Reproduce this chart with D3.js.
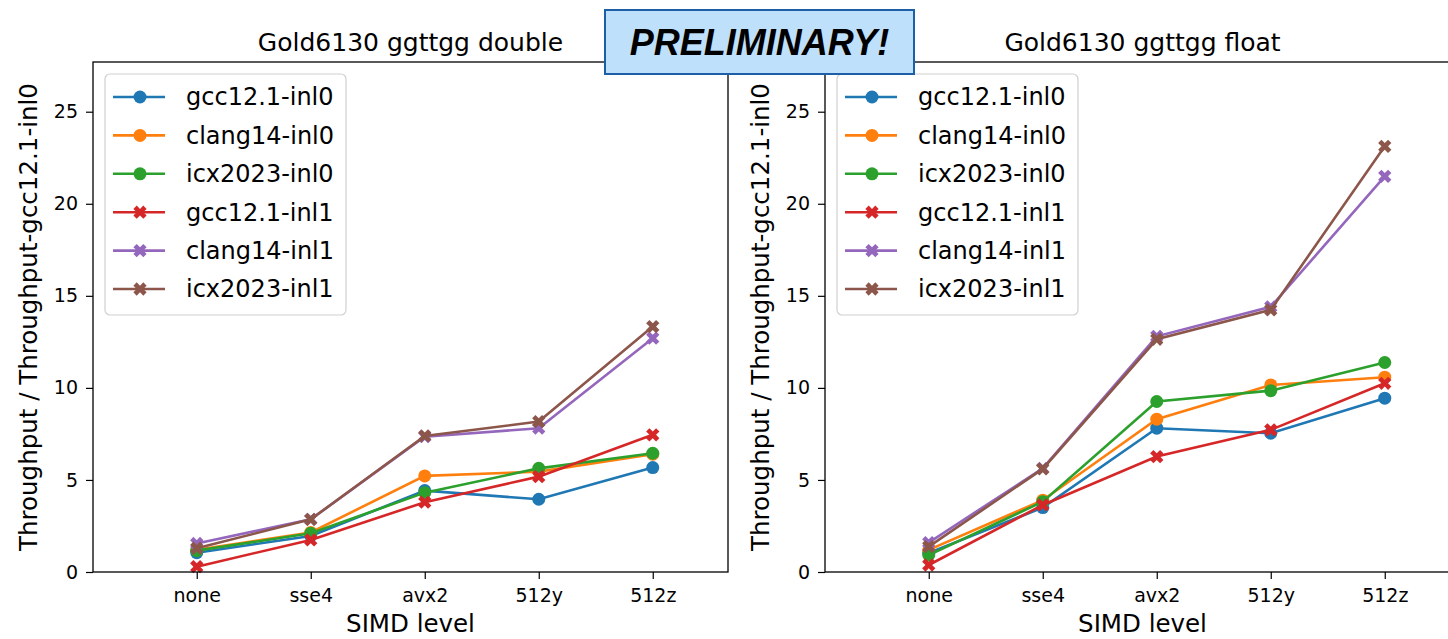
<!DOCTYPE html>
<html>
<head>
<meta charset="utf-8">
<script src="https://cdn.jsdelivr.net/npm/d3@7"></script>
<style>
  body { margin: 0; background: #fff; }
  svg text { font-family: "DejaVu Sans", sans-serif; fill: #000; }
</style>
</head>
<body>
<svg id="chart"></svg>
<script>
// categories on the x axis
var simdLevels = ["none", "sse4", "avx2", "512y", "512z"];
// series, in legend order
var seriesNames = ["gcc12.1-inl0", "clang14-inl0", "icx2023-inl0",
                   "gcc12.1-inl1", "clang14-inl1", "icx2023-inl1"];
var seriesColors = ["#1f77b4", "#ff7f0e", "#2ca02c", "#d62728", "#9467bd", "#8c564b"];
var seriesMarkers = ["o", "o", "o", "X", "X", "X"];
var yTicks = [0, 5, 10, 15, 20, 25];

// relative throughput, one row per series (same order as seriesNames)
var doubleThroughput = [
    [1.05, 1.96, 4.42, 3.95, 5.67],
    [1.20, 2.15, 5.22, 5.45, 6.40],
    [1.16, 2.10, 4.31, 5.63, 6.45],
    [0.29, 1.74, 3.79, 5.18, 7.45],
    [1.55, 2.86, 7.35, 7.81, 12.70],
    [1.29, 2.86, 7.39, 8.17, 13.33]
];
var floatThroughput = [
    [1.03, 3.50, 7.81, 7.54, 9.44],
    [1.20, 3.90, 8.30, 10.16, 10.58],
    [0.92, 3.82, 9.26, 9.85, 11.38],
    [0.38, 3.64, 6.27, 7.72, 10.25],
    [1.60, 5.63, 12.80, 14.40, 21.49],
    [1.38, 5.60, 12.64, 14.24, 23.12]
];

var panels = [
    {title: "Gold6130 ggttgg double", data: doubleThroughput, left: 93},
    {title: "Gold6130 ggttgg float", data: floatThroughput, left: 825}
];

var W = 1448, H = 639;
var plotTop = 62, plotW = 635, plotH = 510;

var svg = d3.select("#chart")
            .attr("width", W)
            .attr("height", H);

//shared scales (both panels use the same limits)
var xScale = d3.scaleLinear()
               .domain([-0.91, 4.66])
               .range([0, plotW]);
var yScale = d3.scaleLinear()
               .domain([0, 27.7])
               .range([plotH, 0]);

var line = d3.line()
             .x(function(d, i) { return xScale(i); })
             .y(function(d) { return yScale(d); });

function drawMarker(sel, type, color) {
    if (type === "o") {
        sel.append("circle")
           .attr("r", 6.5)
           .attr("fill", color);
    } else {
        sel.append("path")
           .attr("d", d3.symbol(d3.symbolCross, 110)())
           .attr("transform", "rotate(45)")
           .attr("fill", color);
    }
}

panels.forEach(function(p) {
    var g = svg.append("g")
               .attr("transform", "translate(" + p.left + "," + plotTop + ")");

    // y axis
    var yAxis = g.append("g")
                 .call(d3.axisLeft(yScale).tickValues(yTicks).tickSize(7).tickPadding(8));
    yAxis.select(".domain").remove();
    yAxis.selectAll("line").attr("stroke", "#000").attr("stroke-width", 1.2);
    yAxis.selectAll("text").style("font-size", "19px");

    // x axis
    var xAxis = g.append("g")
                 .attr("transform", "translate(0," + plotH + ")")
                 .call(d3.axisBottom(xScale)
                         .tickValues(d3.range(simdLevels.length))
                         .tickFormat(function(i) { return simdLevels[i]; })
                         .tickSize(7).tickPadding(10));
    xAxis.select(".domain").remove();
    xAxis.selectAll("line").attr("stroke", "#000").attr("stroke-width", 1.2);
    xAxis.selectAll("text").style("font-size", "19px");

    // series lines and markers
    p.data.forEach(function(vals, s) {
        g.append("path")
         .datum(vals)
         .attr("d", line)
         .attr("fill", "none")
         .attr("stroke", seriesColors[s])
         .attr("stroke-width", 2.6);

        g.selectAll(".m" + s)
         .data(vals)
         .enter()
         .append("g")
         .attr("class", "m" + s)
         .attr("transform", function(d, i) {
             return "translate(" + xScale(i) + "," + yScale(d) + ")";
         })
         .each(function() { drawMarker(d3.select(this), seriesMarkers[s], seriesColors[s]); });
    });

    // frame
    g.append("rect")
     .attr("width", plotW)
     .attr("height", plotH)
     .attr("fill", "none")
     .attr("stroke", "#000")
     .attr("stroke-width", 1.3);

    // title and axis labels
    g.append("text")
     .attr("x", plotW / 2)
     .attr("y", -11)
     .attr("text-anchor", "middle")
     .style("font-size", "25px")
     .text(p.title);

    g.append("text")
     .attr("x", plotW / 2)
     .attr("y", plotH + 60)
     .attr("text-anchor", "middle")
     .style("font-size", "24.5px")
     .text("SIMD level");

    g.append("text")
     .attr("transform", "translate(-65," + plotH / 2 + ") rotate(-90)")
     .attr("text-anchor", "middle")
     .attr("dy", "0.35em")
     .style("font-size", "24.5px")
     .text("Throughput / Throughput-gcc12.1-inl0");

    // legend
    var leg = g.append("g").attr("transform", "translate(12,12)");
    leg.append("rect")
       .attr("width", 241)
       .attr("height", 241)
       .attr("rx", 5)
       .attr("fill", "#fff")
       .attr("fill-opacity", 0.85)
       .attr("stroke", "#d0d0d0")
       .attr("stroke-width", 1.2);

    seriesNames.forEach(function(name, s) {
        var row = leg.append("g")
                     .attr("transform", "translate(0," + (23 + s * 38.4) + ")");
        row.append("line")
           .attr("x1", 8).attr("x2", 60)
           .attr("stroke", seriesColors[s])
           .attr("stroke-width", 2.6);
        var mk = row.append("g").attr("transform", "translate(35,0)");
        drawMarker(mk, seriesMarkers[s], seriesColors[s]);
        row.append("text")
           .attr("x", 81)
           .attr("dy", "0.35em")
           .style("font-size", "24px")
           .text(name);
    });
});

// banner on top
var banner = svg.append("g");
banner.append("rect")
      .attr("x", 605).attr("y", 10)
      .attr("width", 309).attr("height", 64)
      .attr("fill", "#bfe0fb")
      .attr("stroke", "#1d5fa6")
      .attr("stroke-width", 2);
banner.append("text")
      .attr("x", 759.5)
      .attr("y", 55)
      .attr("text-anchor", "middle")
      .style("font-family", "'Liberation Sans', Arial, sans-serif")
      .style("font-weight", "bold")
      .style("font-style", "italic")
      .style("font-size", "36px")
      .text("PRELIMINARY!");
</script>
</body>
</html>
